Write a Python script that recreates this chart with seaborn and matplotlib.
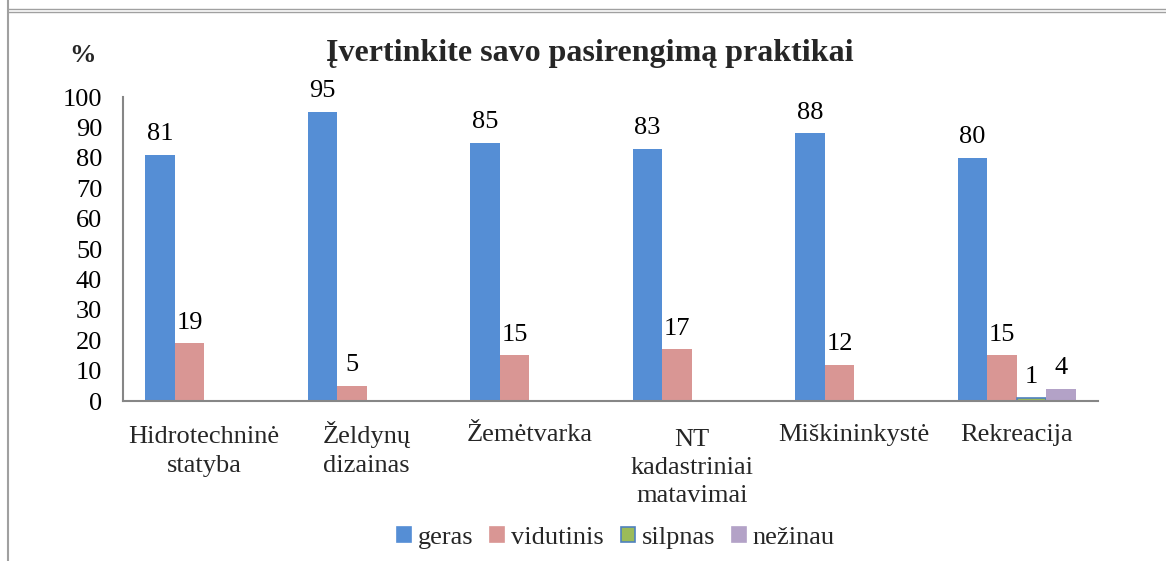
import matplotlib
matplotlib.use("Agg")
import matplotlib.pyplot as plt
import seaborn as sns
import pandas as pd
import numpy as np
from matplotlib.lines import Line2D
from matplotlib.patches import Patch

categories = ["Hidrotechninė\nstatyba", "Želdynų\ndizainas", "Žemėtvarka",
              "NT\nkadastriniai\nmatavimai", "Miškininkystė", "Rekreacija"]
series = ["geras", "vidutinis", "silpnas", "nežinau"]
geras = [81, 95, 85, 83, 88, 80]
vidutinis = [19, 5, 15, 17, 12, 15]
silpnas = [np.nan, np.nan, np.nan, np.nan, np.nan, 1]
nezinau = [np.nan, np.nan, np.nan, np.nan, np.nan, 4]
colors = ["#558ED5", "#D99694", "#9BBB59", "#B3A2C7"]
title = "Įvertinkite savo pasirengimą praktikai"

sns.set_style("white")
FAM = "Liberation Serif"
plt.rcParams["font.family"] = FAM
FS = 19
LINE_PT = 21.8

rows = []
for s, vals in zip(series, [geras, vidutinis, silpnas, nezinau]):
    for c, v in zip(categories, vals):
        rows.append({"cat": c, "series": s, "value": v})
df = pd.DataFrame(rows)

fig = plt.figure(figsize=(11.66, 5.61), dpi=100)
ax = fig.add_axes([123/1166, 1-401/561, (1098-123)/1166, (401-97)/561])

sns.barplot(data=df, x="cat", y="value", hue="series", order=categories,
            hue_order=series, palette=colors, width=0.726, gap=0,
            saturation=1, ax=ax, legend=False, errorbar=None,
            edgecolor="none", linewidth=0)

for cont, s in zip(ax.containers, series):
    if s == "silpnas":
        for p in cont:
            p.set_edgecolor("#4F81BD")
            p.set_linewidth(1.2)
    labels = []
    for p in cont:
        h = p.get_height()
        labels.append("" if np.isnan(h) else f"{h:.0f}")
    ax.bar_label(cont, labels=labels, padding=7, fontsize=FS, color="black",
                 family=FAM)

ax.set_xlim(-0.5, 5.5)
ax.set_ylim(0, 100)
ax.set_yticks(range(0, 101, 10))
ax.set_xticks(range(len(categories)), labels=[""] * len(categories))
ax.set_xlabel("")
ax.set_ylabel("")
ax.tick_params(axis="y", length=0, pad=15, labelsize=FS, colors="black")
ax.tick_params(axis="x", length=0)
for lbl in ax.get_yticklabels():
    lbl.set_family(FAM)

# category labels: first line baselines aligned
for i, cat in enumerate(categories):
    n = cat.count("\n")
    ax.annotate(cat, xy=(i, 0), xycoords=("data", "axes fraction"),
                xytext=(0, -29 - n * LINE_PT), textcoords="offset points",
                ha="center", va="baseline", fontsize=FS, family=FAM,
                linespacing=1.36, multialignment="center", annotation_clip=False)

for side in ["top", "right"]:
    ax.spines[side].set_visible(False)
for side in ["left", "bottom"]:
    ax.spines[side].set_color("#868686")
    ax.spines[side].set_linewidth(1.5)

fig.text(590/1166, 1-60.5/561, title, ha="center", va="baseline",
         fontsize=23, fontweight="bold", family=FAM)
fig.text(83/1166, 1-56/561, "%", ha="center", va="center",
         fontsize=19, fontweight="bold", family=FAM)

handles = [Patch(facecolor=c, edgecolor=("#4F81BD" if s == "silpnas" else c),
                 linewidth=1.2) for s, c in zip(series, colors)]
fig.legend(handles, series, loc="center", bbox_to_anchor=(616/1166, 1-538/561),
           ncol=4, frameon=False, prop={"family": FAM, "size": FS},
           handlelength=0.53, handleheight=0.53, handletextpad=0.25,
           columnspacing=0.65, borderpad=0)

fig.add_artist(Line2D([8/1166, 8/1166], [0, 1], color="#A0A0A0", lw=1.5))
fig.add_artist(Line2D([8/1166, 1], [1-8.5/561, 1-8.5/561], color="#A0A0A0", lw=1))
fig.add_artist(Line2D([8/1166, 1], [1-11.5/561, 1-11.5/561], color="#A0A0A0", lw=1))

fig.savefig("out.png", dpi=100)
